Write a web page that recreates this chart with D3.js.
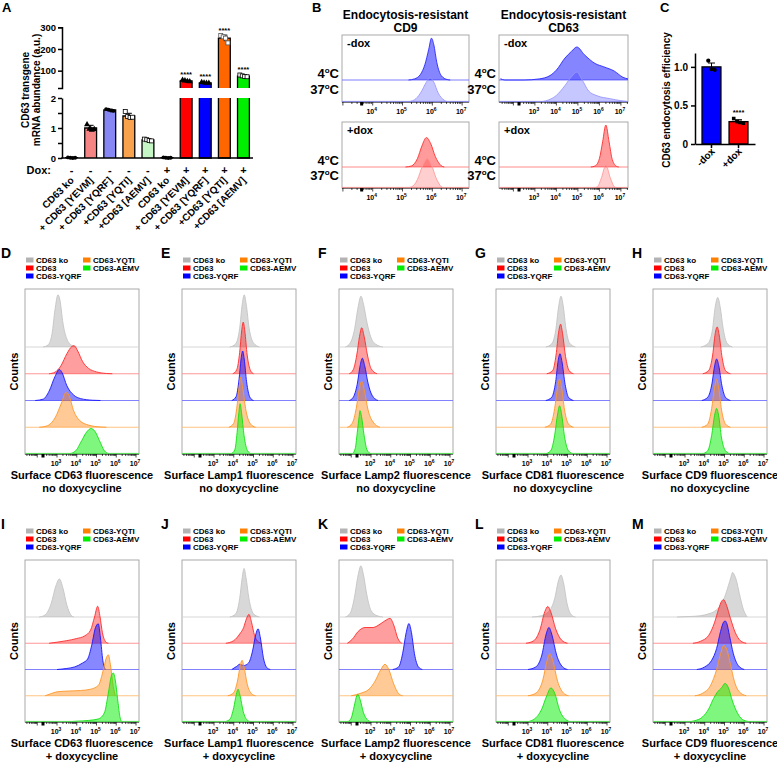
<!DOCTYPE html>
<html><head><meta charset="utf-8">
<script src="https://cdn.jsdelivr.net/npm/d3@7"></script>
<style>body{margin:0;background:#fff}</style>
</head><body>
<script>
// ================= DATA =================
// Panel A
const catsA = ["CD63 ko","+ CD63 [YEVM]","+ CD63 [YQRF]","+CD63 [YQTI]","+CD63 [AEMV]","CD63 ko","+ CD63 [YEVM]","+ CD63 [YQRF]","+CD63 [YQTI]","+CD63 [AEMV]"];
const doxA = ["-","-","-","-","-","+","+","+","+","+"];
const meansA = [0.01, 1.0, 1.6, 1.4, 0.6, 0.01, 53, 44, 250, 75];
const sdA = [0.01, 0.09, 0.03, 0.09, 0.03, 0.01, 3, 1.5, 14, 4];
const repsA = [[0.02,0.01,0.0,0.01],[1.12,0.97,0.93,0.96],[1.63,1.61,1.58,1.57],[1.55,1.38,1.35,1.36],[0.63,0.61,0.58,0.57],[0.02,0.01,0.0,0.01],[57,54,51,50],[46,44,43,43],[262,256,250,228],[80,76,73,72]];
const sigA = ["","","","","","","****","****","****","****"];
const lowTicksA = [0,0.5,1,1.5,2];
const highTicksA = [100,200,300];
// Panel C
const catsC = ["-dox","+dox"];
const meansC = [1.0, 0.29];
const sdC = [0.05, 0.025];
const repsC = [[1.08,0.97,0.96],[0.33,0.29,0.28,0.27]];
const sigC = ["","****"];
const ticksC = [0,0.5,1.0];
// Panel B
const bTitles = ["CD9","CD63"];
const bRows = ["-dox","+dox"];
const bTemps = ["4","37"];
const cd9Minus4 = [[5.2,0],[5.4,0.05],[5.6,0.25],[5.75,0.7],[5.88,1.4],[5.97,1.9],[6.05,1.6],[6.15,0.8],[6.3,0.2],[6.5,0.02],[6.6,0]];
const cd9Minus37 = [[5.15,0],[5.4,0.1],[5.6,0.4],[5.8,0.9],[5.92,1.1],[6.05,0.9],[6.2,0.4],[6.4,0.08],[6.55,0]];
const cd9Plus4 = [[5.1,0],[5.3,0.05],[5.5,0.4],[5.65,1.0],[5.8,1.4],[5.95,1.1],[6.1,0.5],[6.3,0.06],[6.4,0]];
const cd9Plus37 = [[5.1,0],[5.3,0.05],[5.5,0.4],[5.67,1.05],[5.83,1.4],[5.97,1.1],[6.12,0.5],[6.3,0.06],[6.4,0]];
const cd63Minus4 = [[1.4,0.06],[1.6,0],[2.5,0],[3.2,0.05],[3.7,0.2],[4.0,0.45],[4.4,1.0],[4.7,1.3],[4.95,1.5],[5.3,1.15],[5.8,0.75],[6.2,0.6],[6.7,0.4],[7.1,0.12],[7.33,0.05]];
const cd63Minus37 = [[3.2,0],[3.5,0.05],[4.0,0.3],[4.4,0.75],[4.7,1.15],[4.95,1.36],[5.2,1.0],[5.5,0.5],[5.9,0.28],[6.5,0.15],[7.0,0.06],[7.33,0.02]];
const cd63Plus4 = [[5.6,0],[5.8,0.05],[6.0,0.4],[6.15,1.2],[6.3,2.0],[6.45,1.2],[6.6,0.35],[6.8,0.03],[6.9,0]];
const cd63Plus37 = [[5.7,0],[5.9,0.05],[6.1,0.5],[6.3,1.1],[6.5,0.5],[6.7,0.05],[6.8,0]];
// Panels D-M
const histLegend = ["CD63 ko","CD63","CD63-YQRF","CD63-YQTI","CD63-AEMV"];
const markerNames = ["CD63","Lamp1","Lamp2","CD81","CD9"];
const conditions = ["no doxycycline","+ doxycycline"];
const lettersRow1 = ["D","E","F","G","H"];
const lettersRow2 = ["I","J","K","L","M"];
const histTickExps = [3,4,5,6,7];
const histD = [
 [[2.3,0],[2.55,0.08],[2.75,0.5],[2.9,1.4],[3.05,1.95],[3.15,1.75],[3.3,0.9],[3.5,0.3],[3.75,0.06],[4.0,0]],
 [[2.6,0],[2.9,0.06],[3.2,0.3],[3.5,0.75],[3.75,1.02],[3.86,1.05],[4.05,0.85],[4.3,0.45],[4.6,0.2],[5.0,0.07],[5.5,0.01],[5.8,0]],
 [[1.9,0],[2.3,0.05],[2.6,0.35],[2.9,0.9],[3.12,1.16],[3.25,1.05],[3.5,0.55],[3.85,0.2],[4.2,0.07],[4.8,0.01],[5.2,0]],
 [[2.1,0],[2.5,0.05],[2.9,0.35],[3.25,0.95],[3.45,1.3],[3.6,1.2],[3.85,0.6],[4.15,0.25],[4.6,0.08],[5.2,0.01],[5.5,0]],
 [[3.6,0],[3.95,0.12],[4.25,0.5],[4.5,0.82],[4.72,0.95],[4.92,0.85],[5.15,0.5],[5.4,0.12],[5.65,0]]];
const histE = [
 [[3.8,0],[4.1,0.12],[4.3,0.7],[4.43,1.6],[4.53,1.95],[4.63,1.6],[4.78,0.7],[5.0,0.15],[5.3,0]],
 [[3.95,0],[4.15,0.15],[4.3,0.8],[4.4,1.6],[4.48,1.93],[4.56,1.6],[4.68,0.7],[4.85,0.12],[5.0,0]],
 [[3.9,0],[4.12,0.15],[4.27,0.8],[4.37,1.55],[4.45,1.85],[4.53,1.55],[4.65,0.7],[4.82,0.12],[5.0,0]],
 [[3.75,0],[4.0,0.15],[4.15,0.7],[4.27,1.5],[4.35,1.88],[4.45,1.5],[4.6,0.7],[4.85,0.12],[5.1,0]],
 [[3.85,0],[4.05,0.15],[4.17,0.8],[4.26,1.55],[4.32,1.88],[4.4,1.5],[4.52,0.7],[4.7,0.12],[4.9,0]]];
const histF = [
 [[1.7,0],[1.95,0.15],[2.15,0.6],[2.35,1.5],[2.49,1.9],[2.62,1.6],[2.8,0.9],[3.0,0.35],[3.25,0.1],[3.6,0]],
 [[1.9,0],[2.1,0.15],[2.28,0.7],[2.42,1.4],[2.53,1.72],[2.65,1.4],[2.82,0.7],[3.0,0.2],[3.3,0]],
 [[1.9,0],[2.1,0.12],[2.3,0.6],[2.45,1.3],[2.56,1.58],[2.68,1.3],[2.85,0.65],[3.05,0.2],[3.35,0]],
 [[1.8,0],[2.05,0.15],[2.25,0.7],[2.4,1.4],[2.53,1.72],[2.67,1.35],[2.85,0.65],[3.1,0.2],[3.45,0]],
 [[2.05,0],[2.2,0.2],[2.32,0.9],[2.4,1.4],[2.44,1.62],[2.52,1.4],[2.65,0.7],[2.8,0.15],[3.0,0]]];
const histG = [
 [[3.9,0],[4.2,0.12],[4.4,0.6],[4.55,1.5],[4.67,1.9],[4.78,1.55],[4.92,0.7],[5.1,0.15],[5.4,0]],
 [[3.95,0],[4.25,0.12],[4.42,0.7],[4.55,1.55],[4.65,1.85],[4.75,1.5],[4.9,0.65],[5.08,0.12],[5.3,0]],
 [[3.9,0],[4.2,0.12],[4.4,0.7],[4.53,1.5],[4.62,1.75],[4.72,1.45],[4.88,0.6],[5.05,0.12],[5.3,0]],
 [[3.85,0],[4.15,0.12],[4.35,0.7],[4.5,1.5],[4.6,1.8],[4.7,1.5],[4.85,0.65],[5.05,0.12],[5.3,0]],
 [[3.85,0],[4.15,0.12],[4.35,0.7],[4.5,1.5],[4.6,1.8],[4.7,1.5],[4.85,0.65],[5.05,0.12],[5.3,0]]];
const histH = [
 [[3.8,0],[4.15,0.12],[4.38,0.6],[4.53,1.5],[4.66,1.85],[4.78,1.5],[4.93,0.7],[5.12,0.15],[5.4,0]],
 [[3.9,0],[4.2,0.12],[4.4,0.7],[4.53,1.5],[4.63,1.75],[4.73,1.45],[4.88,0.6],[5.05,0.12],[5.3,0]],
 [[3.85,0],[4.15,0.12],[4.37,0.65],[4.5,1.3],[4.6,1.55],[4.71,1.3],[4.87,0.55],[5.05,0.12],[5.3,0]],
 [[3.85,0],[4.15,0.12],[4.35,0.7],[4.5,1.5],[4.6,1.8],[4.7,1.5],[4.85,0.65],[5.05,0.12],[5.3,0]],
 [[3.85,0],[4.15,0.12],[4.35,0.7],[4.5,1.45],[4.6,1.7],[4.7,1.45],[4.85,0.6],[5.05,0.12],[5.3,0]]];
const histI = [
 [[2.1,0],[2.4,0.08],[2.7,0.5],[2.95,1.2],[3.12,1.45],[3.3,1.1],[3.5,0.45],[3.7,0.08],[3.85,0]],
 [[2.6,0],[3.0,0.04],[3.5,0.1],[4.0,0.18],[4.4,0.28],[4.7,0.5],[4.9,1.0],[5.06,1.41],[5.18,1.0],[5.3,0.4],[5.5,0.03],[5.6,0]],
 [[3.0,0],[3.5,0.04],[3.9,0.1],[4.3,0.25],[4.55,0.4],[4.75,0.9],[4.95,1.6],[5.09,1.74],[5.2,1.2],[5.32,0.35],[5.45,0]],
 [[2.4,0],[2.7,0.08],[3.0,0.15],[3.6,0.18],[4.2,0.2],[4.7,0.25],[5.1,0.4],[5.35,1.0],[5.5,1.45],[5.6,1.56],[5.7,1.2],[5.85,0.35],[5.95,0]],
 [[3.4,0],[4.0,0.03],[4.6,0.06],[5.1,0.12],[5.4,0.35],[5.6,1.1],[5.75,1.75],[5.85,1.87],[5.95,1.6],[6.08,0.8],[6.2,0.15],[6.28,0]]];
const histJ = [
 [[3.8,0],[4.1,0.12],[4.3,0.7],[4.43,1.5],[4.52,1.85],[4.62,1.5],[4.77,0.7],[5.0,0.12],[5.3,0]],
 [[3.6,0],[4.0,0.1],[4.3,0.35],[4.5,0.6],[4.65,0.95],[4.77,1.1],[4.9,0.8],[5.05,0.3],[5.25,0.05],[5.4,0]],
 [[3.9,0],[4.15,0.12],[4.3,0.2],[4.5,0.15],[4.75,0.25],[4.95,0.7],[5.12,1.35],[5.23,1.55],[5.35,1.2],[5.5,0.45],[5.7,0.05],[5.85,0]],
 [[3.7,0],[4.0,0.12],[4.2,0.6],[4.33,1.15],[4.42,1.35],[4.52,1.1],[4.68,0.45],[4.9,0.08],[5.1,0]],
 [[3.5,0],[3.8,0.1],[4.0,0.55],[4.13,1.05],[4.22,1.25],[4.32,1.0],[4.48,0.4],[4.7,0.06],[4.9,0]]];
const histK = [
 [[1.7,0],[1.95,0.15],[2.15,0.7],[2.35,1.6],[2.49,1.95],[2.62,1.6],[2.8,0.8],[3.0,0.25],[3.3,0.05],[3.6,0]],
 [[1.8,0],[2.05,0.15],[2.35,0.45],[2.7,0.6],[3.1,0.6],[3.5,0.75],[3.8,0.9],[3.96,0.95],[4.15,0.7],[4.35,0.2],[4.55,0]],
 [[4.1,0],[4.4,0.1],[4.6,0.6],[4.78,1.4],[4.92,1.75],[5.05,1.4],[5.2,0.6],[5.4,0.1],[5.6,0]],
 [[2.0,0],[2.5,0.1],[2.9,0.25],[3.2,0.55],[3.5,1.0],[3.71,1.2],[3.9,1.0],[4.15,0.45],[4.4,0.08],[4.6,0]],
 [[1.8,0],[2.0,0.15],[2.15,0.6],[2.28,1.0],[2.34,1.05],[2.45,0.85],[2.62,0.35],[2.85,0.06],[3.0,0]]];
const histL = [
 [[3.2,0],[3.7,0.05],[4.1,0.25],[4.35,0.7],[4.55,1.4],[4.67,1.6],[4.8,1.3],[4.98,0.5],[5.2,0.08],[5.4,0]],
 [[2.9,0],[3.3,0.1],[3.6,0.5],[3.85,1.2],[4.0,1.4],[4.15,1.2],[4.4,0.55],[4.7,0.12],[5.0,0]],
 [[3.0,0],[3.4,0.1],[3.7,0.55],[3.92,1.35],[4.06,1.6],[4.2,1.35],[4.45,0.55],[4.75,0.1],[5.0,0]],
 [[3.0,0],[3.4,0.1],[3.75,0.6],[3.97,1.35],[4.11,1.6],[4.25,1.35],[4.5,0.55],[4.8,0.1],[5.05,0]],
 [[2.9,0],[3.3,0.1],[3.7,0.5],[3.95,1.0],[4.16,1.3],[4.35,1.1],[4.6,0.45],[4.9,0.1],[5.2,0]]];
const histM = [
 [[2.6,0],[3.3,0.02],[3.8,0.05],[4.2,0.12],[4.5,0.22],[4.8,0.45],[5.0,0.75],[5.2,1.2],[5.32,1.5],[5.41,1.7],[5.5,1.6],[5.6,1.4],[5.75,0.9],[5.95,0.3],[6.15,0]],
 [[3.4,0],[3.8,0.08],[4.2,0.3],[4.5,0.8],[4.7,1.3],[4.85,1.6],[4.95,1.66],[5.1,1.45],[5.3,0.95],[5.55,0.4],[5.8,0.1],[6.1,0]],
 [[3.6,0],[4.0,0.1],[4.35,0.35],[4.6,0.8],[4.8,1.45],[4.95,1.8],[5.03,1.85],[5.12,1.75],[5.25,1.3],[5.45,0.6],[5.7,0.15],[6.0,0]],
 [[3.5,0],[3.9,0.1],[4.3,0.4],[4.6,1.0],[4.8,1.6],[4.97,1.92],[5.12,1.75],[5.3,1.2],[5.5,0.55],[5.75,0.15],[6.1,0]],
 [[3.1,0],[3.5,0.05],[3.9,0.2],[4.2,0.5],[4.45,0.9],[4.65,1.15],[4.85,1.3],[5.03,1.47],[5.2,1.3],[5.4,0.8],[5.65,0.35],[5.9,0.1],[6.2,0.02],[6.5,0]]];
const histRow1 = [histD, histE, histF, histG, histH];
const histRow2 = [histI, histJ, histK, histL, histM];

// ================= STYLE =================
const FONT = "'Liberation Sans', Arial, Helvetica, sans-serif";
const fillA = ["#ffffff","#f58484","#8686f4","#f9a24e","#c6f5c6","#ffffff","#ff0000","#0000ff","#ff6600","#00ee00"];
const markA = ["circle","triangle","circle","squareOpen","squareOpen","circle","triangle","triangle","squareOpen","squareOpen"];
const fillC = ["#0000ff","#ff0000"];
const legendColors = ["#b3b3b3","#ff0000","#0000ff","#ff8000","#00ee00"];
const histStyles = [
 {fill:"#a8a8a8", op:0.45, stroke:"#c4c4c4", base:"#d2d2d2"},
 {fill:"#ff0000", op:0.38, stroke:"#ff2a2a", base:"#ff8c8c"},
 {fill:"#0000ff", op:0.47, stroke:"#1515ff", base:"#7474ff"},
 {fill:"#ff8a14", op:0.45, stroke:"#ff9628", base:"#ffbd74"},
 {fill:"#00f000", op:0.5, stroke:"#10e010", base:"#60f060"}];
const bStylesMinus = [{fill:"#2020ff",op:0.55,stroke:"#2a2aff",base:"#7070ff"},{fill:"#2020ff",op:0.25,stroke:"#9898ff",base:"#9898ff"}];
const bStylesPlus = [{fill:"#ff1010",op:0.42,stroke:"#ff3030",base:"#ff8080"},{fill:"#ff1010",op:0.2,stroke:"#ff9a9a",base:"#ff9a9a"}];

const svg = d3.select("body").append("svg").attr("width",777).attr("height",765)
  .style("font-family",FONT).style("font-weight","bold");

function letter(t,x,y,fs){svg.append("text").attr("x",x).attr("y",y).attr("font-size",fs||14).text(t);}

// ================= PANEL A =================
(function(){
  const g = svg.append("g");
  const xA = d3.scaleBand().domain(d3.range(catsA.length)).range([62,253]).paddingInner(0.38).paddingOuter(0.19);
  const yLow = d3.scaleLinear().domain([0,2]).range([158,98]);
  const yHigh = d3.scaleLinear().domain([20,300]).range([88,27.3]);
  const yOf = v => v>2 ? yHigh(v) : yLow(v);
  catsA.forEach((c,i)=>{
    const x0 = xA(i), w = xA.bandwidth(), v = meansA[i];
    const topLow = yLow(Math.min(v,2));
    g.append("rect").attr("x",x0).attr("y",topLow).attr("width",w).attr("height",158-topLow).attr("fill",fillA[i]);
    const p = d3.path();
    if(v>2){ p.moveTo(x0,98); p.lineTo(x0,158); p.lineTo(x0+w,158); p.lineTo(x0+w,98);}
    else { p.moveTo(x0,158); p.lineTo(x0,topLow); p.lineTo(x0+w,topLow); p.lineTo(x0+w,158);}
    g.append("path").attr("d",p.toString()).attr("fill","none").attr("stroke","#000").attr("stroke-width",1.3);
    if(v>2){
      const yt = yHigh(v);
      g.append("rect").attr("x",x0).attr("y",yt).attr("width",w).attr("height",88-yt).attr("fill",fillA[i]);
      const q = d3.path(); q.moveTo(x0,88); q.lineTo(x0,yt); q.lineTo(x0+w,yt); q.lineTo(x0+w,88);
      g.append("path").attr("d",q.toString()).attr("fill","none").attr("stroke","#000").attr("stroke-width",1.3);
    }
    const cx = x0+w/2, e1=yOf(v+sdA[i]), e0=yOf(Math.max(v-sdA[i],0));
    g.append("line").attr("x1",cx).attr("x2",cx).attr("y1",e1).attr("y2",e0).attr("stroke","#000").attr("stroke-width",1);
    g.append("line").attr("x1",cx-3).attr("x2",cx+3).attr("y1",e1).attr("y2",e1).attr("stroke","#000").attr("stroke-width",1);
    const n = repsA[i].length;
    repsA[i].forEach((r,j)=>{
      const px = cx + (j-(n-1)/2)*2.4, py = yOf(r);
      const m = markA[i];
      if(m==="squareOpen"){
        g.append("rect").attr("x",px-2).attr("y",py-2).attr("width",4).attr("height",4).attr("fill","#fff").attr("stroke", i===8?"#555":"#000").attr("stroke-width",0.8);
      } else {
        const sym = d3.symbol().type(m==="triangle"?d3.symbolTriangle:d3.symbolCircle).size(m==="triangle"?16:12);
        g.append("path").attr("d",sym()).attr("transform",`translate(${px},${py})`).attr("fill","#000");
      }
    });
    if(sigA[i]){
      g.append("text").attr("x",cx).attr("y",yOf(d3.max(repsA[i]))-3).attr("text-anchor","middle").attr("font-size",7.5).text(sigA[i]);
    }
    g.append("text").attr("x",cx).attr("y",174).attr("text-anchor","middle").attr("font-size",11).text(doxA[i]);
    g.append("text").attr("transform",`translate(${cx+3},181) rotate(-45)`).attr("text-anchor","end").attr("font-size",10).text(c);
  });
  const axL = g.append("g").attr("transform","translate(62,0)")
    .call(d3.axisLeft(yLow).tickValues(lowTicksA).tickFormat(d=>Number.isInteger(d)?d:"").tickSize(4).tickSizeOuter(0).tickPadding(2));
  const axH = g.append("g").attr("transform","translate(62,0)")
    .call(d3.axisLeft(yHigh).tickValues(highTicksA).tickSize(4).tickSizeOuter(4).tickPadding(2));
  [axL,axH].forEach(a=>{a.selectAll("path,line").attr("stroke","#000").attr("stroke-width",1.5);
    a.selectAll("text").attr("font-size",9.5).attr("font-weight","bold").attr("font-family",FONT).attr("fill","#000");});
  g.append("line").attr("x1",61.3).attr("x2",253).attr("y1",158).attr("y2",158).attr("stroke","#000").attr("stroke-width",1.5);
  g.append("text").attr("x",51).attr("y",174).attr("text-anchor","end").attr("font-size",11).text("Dox:");
  const t = g.append("text").attr("transform","translate(29,90) rotate(-90)").attr("text-anchor","middle").attr("font-size",10);
  t.append("tspan").attr("x",0).attr("y",0).text("CD63 transgene");
  t.append("tspan").attr("x",0).attr("y",10.5).text("mRNA abundance (a.u.)");
  letter("A",2,12,13);
})();

// ================= PANEL C =================
(function(){
  const g = svg.append("g");
  const xC = d3.scaleBand().domain(catsC).range([695,755]).paddingInner(0.3).paddingOuter(0.26);
  const yC = d3.scaleLinear().domain([0,1.18]).range([144,53]);
  catsC.forEach((c,i)=>{
    const x0=xC(c), w=xC.bandwidth(), cx=x0+w/2;
    g.append("rect").attr("x",x0).attr("y",yC(meansC[i])).attr("width",w).attr("height",144-yC(meansC[i]))
      .attr("fill",fillC[i]).attr("stroke","#000").attr("stroke-width",1.3);
    const e1=yC(meansC[i]+sdC[i]);
    g.append("line").attr("x1",cx).attr("x2",cx).attr("y1",e1).attr("y2",yC(meansC[i]-sdC[i])).attr("stroke","#000");
    g.append("line").attr("x1",cx-3.5).attr("x2",cx+3.5).attr("y1",e1).attr("y2",e1).attr("stroke","#000");
    const n=repsC[i].length;
    repsC[i].forEach((r,j)=>{
      const px=cx+(j-(n-1)/2)*3.2;
      if(i===0){ g.append("path").attr("d",d3.symbol().type(d3.symbolCircle).size(14)()).attr("transform",`translate(${px},${yC(r)})`).attr("fill","#000");}
      else { g.append("rect").attr("x",px-1.8).attr("y",yC(r)-1.8).attr("width",3.6).attr("height",3.6).attr("fill","#000");}
    });
    if(sigC[i]) g.append("text").attr("x",cx).attr("y",yC(d3.max(repsC[i]))-4).attr("text-anchor","middle").attr("font-size",7.5).text(sigC[i]);
    g.append("text").attr("transform",`translate(${cx+4},152) rotate(-45)`).attr("text-anchor","end").attr("font-size",10).text(c);
  });
  const ay = g.append("g").attr("transform","translate(695,0)")
    .call(d3.axisLeft(yC).tickValues(ticksC).tickFormat(d=>d===0?"0":d3.format(".1f")(d)).tickSize(4).tickSizeOuter(0));
  const ax = g.append("g").attr("transform","translate(0,144)").call(d3.axisBottom(xC).tickSize(4).tickSizeOuter(0).tickFormat(""));
  [ay,ax].forEach(a=>{a.selectAll("path,line").attr("stroke","#000").attr("stroke-width",1.5);
    a.selectAll("text").attr("font-size",10).attr("font-weight","bold").attr("font-family",FONT).attr("fill","#000");});
  g.append("text").attr("transform","translate(670,100) rotate(-90)").attr("text-anchor","middle").attr("font-size",10).text("CD63 endocytosis efficiency");
  letter("C",660,12,13);
})();

// ================= HISTOGRAM BOX =================
let clipId = 0;
function histBox(o){
  const g = svg.append("g");
  const x = d3.scaleLog().domain([Math.pow(10,o.lo),Math.pow(10,o.hi)]).range([o.x0,o.x1]);
  const id = "clip"+(clipId++);
  g.append("clipPath").attr("id",id).append("rect").attr("x",o.x0).attr("y",o.y0).attr("width",o.x1-o.x0).attr("height",o.y1-o.y0);
  g.append("rect").attr("x",o.x0).attr("y",o.y0).attr("width",o.x1-o.x0).attr("height",o.y1-o.y0)
    .attr("fill","#fff").attr("stroke","#a0a0a0").attr("stroke-width",0.9);
  const cg = g.append("g").attr("clip-path",`url(#${id})`);
  o.curves.forEach((pts,i)=>{
    const b=o.bases[i], st=o.styles[i];
    const X = d=>x(Math.pow(10,d[0]));
    cg.append("line").attr("x1",o.x0).attr("x2",o.x1).attr("y1",b).attr("y2",b).attr("stroke",st.base).attr("stroke-width",0.9);
    cg.append("path").datum(pts).attr("d",d3.area().x(X).y0(b).y1(d=>b-d[1]*o.s).curve(d3.curveMonotoneX))
      .attr("fill",st.fill).attr("fill-opacity",st.op);
    cg.append("path").datum(pts).attr("d",d3.line().x(X).y(d=>b-d[1]*o.s).curve(d3.curveMonotoneX))
      .attr("fill","none").attr("stroke",st.stroke).attr("stroke-width",0.9);
  });
  g.append("line").attr("x1",o.x0).attr("x2",o.x1).attr("y1",o.y1).attr("y2",o.y1).attr("stroke","#000").attr("stroke-width",0.9);
  if(o.bottomColor) g.append("line").attr("x1",o.x0).attr("x2",o.x1).attr("y1",o.y1-0.6).attr("y2",o.y1-0.6).attr("stroke",o.bottomColor).attr("stroke-width",0.9);
  for(let k=Math.floor(o.lo);k<=Math.ceil(o.hi);k++){
    for(let m=1;m<10;m++){
      const L=k+Math.log10(m);
      if(L<o.lo||L>o.hi) continue;
      const px=x(Math.pow(10,L));
      g.append("line").attr("x1",px).attr("x2",px).attr("y1",o.y1).attr("y2",o.y1+(m===1?3.5:2)).attr("stroke","#000").attr("stroke-width",0.7);
    }
  }
  if(o.blob!==undefined){
    const bx=x(Math.pow(10,o.blob));
    g.append("rect").attr("x",bx-1.5).attr("y",o.y1).attr("width",3).attr("height",3.5).attr("fill","#000");
  }
  o.labels.forEach(e=>{
    const t=g.append("text").attr("x",x(Math.pow(10,e))-1).attr("y",o.y1+o.labDy).attr("text-anchor","middle").attr("font-size",o.labFs);
    t.append("tspan").text("10");
    t.append("tspan").attr("dy",-o.labFs*0.45).attr("font-size",o.labFs*0.7).text(String(e));
  });
  return x;
}

// ================= PANEL B =================
(function(){
  const cols = [{x0:342,x1:469,lo:2.97,hi:7.23,blob:3.63,labels:[4,5,6,7],curves:[[cd9Minus4,cd9Minus37],[cd9Plus4,cd9Plus37]]},
                {x0:499,x1:628,lo:1.33,hi:7.33,blob:2.26,labels:[3,4,5,6,7],curves:[[cd63Minus4,cd63Minus37],[cd63Plus4,cd63Plus37]]}];
  const rows = [{y0:35,y1:102,bases:[80,102],s:22,styles:bStylesMinus,bottom:"#9898ff"},
                {y0:122,y1:188,bases:[167,188],s:21,styles:bStylesPlus,bottom:"#ff9a9a"}];
  cols.forEach((c,ci)=>{
    const cx=(c.x0+c.x1)/2;
    svg.append("text").attr("x",cx).attr("y",19).attr("text-anchor","middle").attr("font-size",12).text("Endocytosis-resistant");
    svg.append("text").attr("x",cx).attr("y",32).attr("text-anchor","middle").attr("font-size",12).text(bTitles[ci]);
    rows.forEach((r,ri)=>{
      histBox({x0:c.x0,x1:c.x1,y0:r.y0,y1:r.y1,lo:c.lo,hi:c.hi,bases:r.bases,s:r.s,curves:c.curves[ri],styles:r.styles,
        labels:c.labels,labDy:12,labFs:7,blob:c.blob,bottomColor:r.bottom});
      svg.append("text").attr("x",c.x0+5).attr("y",r.y0+12).attr("font-size",11).text(bRows[ri]);
      const ys=[r.bases[0]-2, r.y1-8];
      bTemps.forEach((tp,ti)=>{
        const t=svg.append("text").attr("x",c.x0-3).attr("y",ys[ti]).attr("text-anchor","end").attr("font-size",13);
        t.append("tspan").text(tp);
        t.append("tspan").attr("dy",-5).attr("font-size",8).text("o");
        t.append("tspan").attr("dy",5).text("C");
      });
    });
  });
  letter("B",312,12,13);
})();

// ================= PANELS D-M =================
(function(){
  const rowDefs = [{y0:289,y1:454,s:26.75,data:histRow1,letters:lettersRow1,cond:conditions[0]},
                   {y0:560,y1:722,s:26.25,data:histRow2,letters:lettersRow2,cond:conditions[1]}];
  const lo = 3-32/19.75, hi = 3+82/19.75;
  rowDefs.forEach(r=>{
    r.data.forEach((curves,ci)=>{
      const x0 = 25+157*ci, x1 = x0+114;
      const bases = d3.range(5).map(k=>r.y1-(4-k)*r.s);
      histBox({x0,x1,y0:r.y0,y1:r.y1,lo,hi,bases,s:r.s,curves,styles:histStyles,labels:histTickExps,labDy:12,labFs:7,
        blob:3-14/19.75,bottomColor:histStyles[4].base});
      const ly = r.y0-29;
      histLegend.forEach((lab,li)=>{
        const col = li<3?0:1, row = li<3?li:li-3;
        const lx = x0+1+col*57, yy = ly+row*8;
        svg.append("rect").attr("x",lx).attr("y",yy-2.5).attr("width",7.5).attr("height",5).attr("fill",legendColors[li]);
        svg.append("text").attr("x",lx+10).attr("y",yy+3).attr("font-size",8).text(lab);
      });
      svg.append("text").attr("transform",`translate(${x0-7},${(r.y0+r.y1)/2}) rotate(-90)`).attr("text-anchor","middle").attr("font-size",11).text("Counts");
      svg.append("text").attr("x",(x0+x1)/2).attr("y",r.y1+25).attr("text-anchor","middle").attr("font-size",11).text("Surface "+markerNames[ci]+" fluorescence");
      svg.append("text").attr("x",(x0+x1)/2).attr("y",r.y1+37.5).attr("text-anchor","middle").attr("font-size",11).text(r.cond);
      letter(r.letters[ci], ci===0?1:x0-21, r.y0-31, 14);
    });
  });
})();
</script>
</body></html>
